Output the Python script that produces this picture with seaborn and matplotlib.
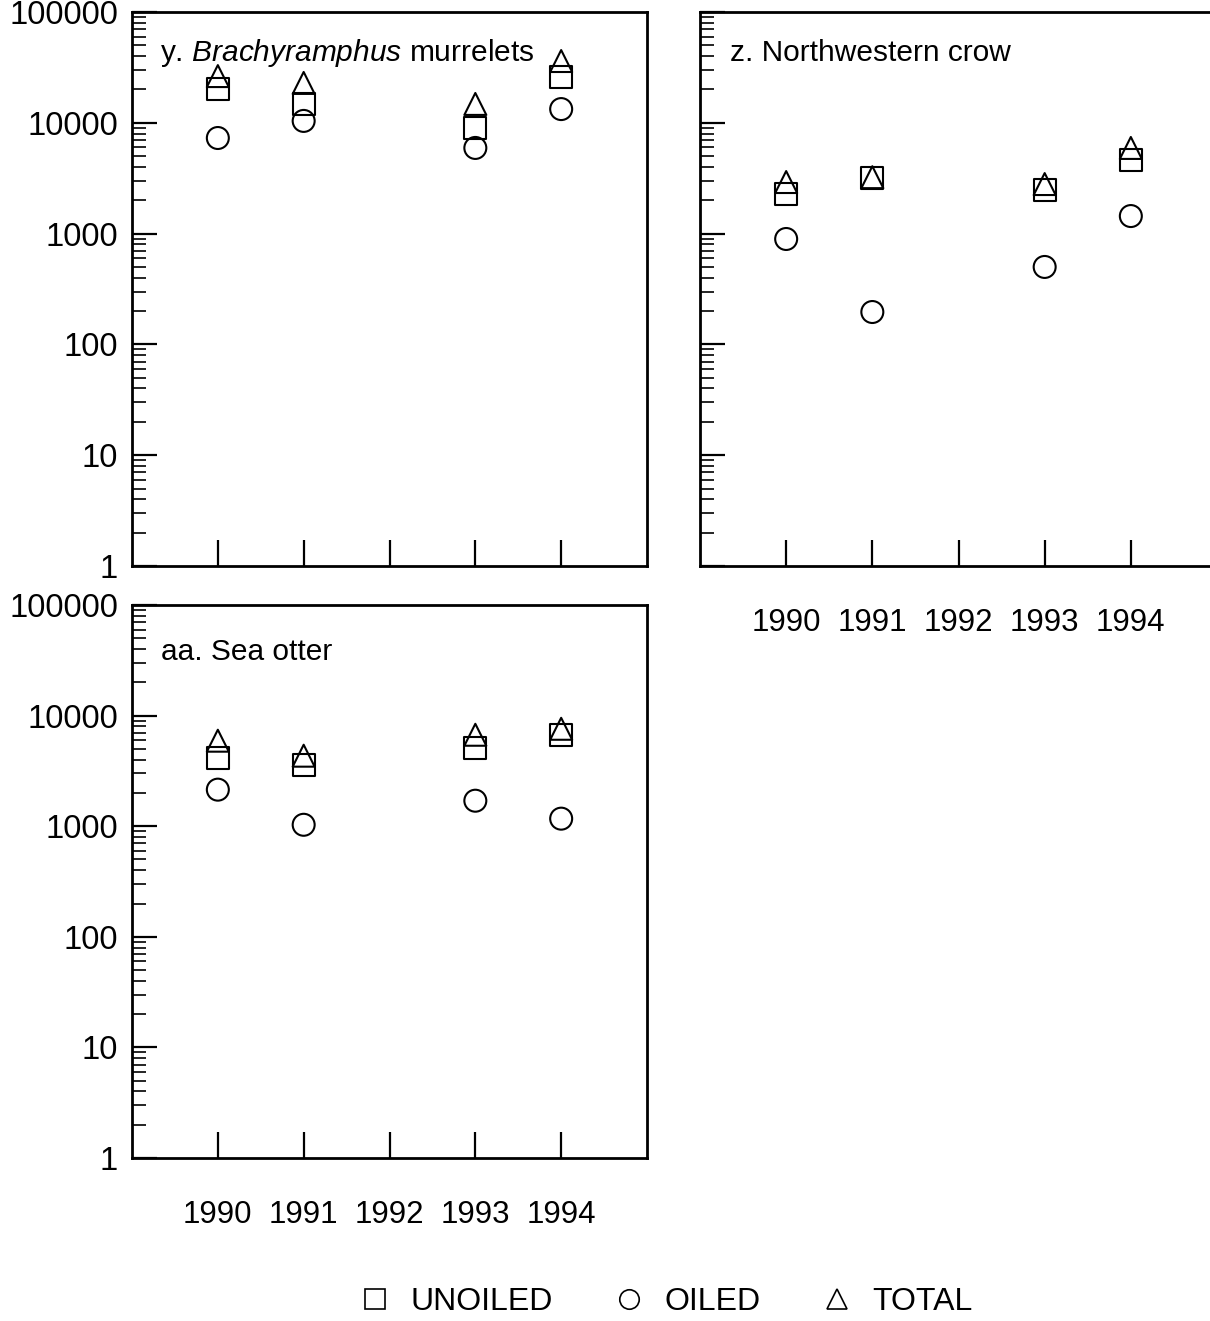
import matplotlib
matplotlib.use("Agg")
import matplotlib.pyplot as plt
import matplotlib.ticker as mticker
from matplotlib.lines import Line2D
import numpy as np
import pandas as pd
import seaborn as sns

# ---------------- data ----------------
years = [1990, 1991, 1993, 1994]
year_ticks = [1990, 1991, 1992, 1993, 1994]
y_ticks = [1, 10, 100, 1000, 10000, 100000]

murrelet_unoiled = [20200, 14800, 8980, 25900]
murrelet_oiled = [7290, 10400, 5930, 13300]
murrelet_total = [26400, 22900, 14800, 36100]

crow_unoiled = [2280, 3180, 2480, 4620]
crow_oiled = [894, 196, 500, 1440]
crow_total = [2920, 3230, 2800, 5930]

otter_unoiled = [4160, 3600, 5120, 6710]
otter_oiled = [2140, 1030, 1700, 1170]
otter_total = [5930, 4340, 6710, 7600]

series_names = ["UNOILED", "OILED", "TOTAL"]
series_markers = {"UNOILED": "s", "OILED": "o", "TOTAL": "^"}

# ---------------- style ----------------
sns.set_style("ticks")
plt.rcParams["font.family"] = ["Liberation Sans", "DejaVu Sans"]
plt.rcParams["mathtext.fontset"] = "custom"
plt.rcParams["mathtext.rm"] = "Liberation Sans"
plt.rcParams["mathtext.it"] = "Liberation Sans:italic"
for key in ["text.color", "axes.labelcolor", "xtick.color", "ytick.color",
            "axes.edgecolor"]:
    plt.rcParams[key] = "black"

W, H = 1210, 1321
DPI = 100
fig = plt.figure(figsize=(W / DPI, H / DPI), dpi=DPI)
fig.patch.set_facecolor("white")


def frac(left, top, right, bottom):
    return [left / W, 1 - bottom / H, (right - left) / W, (bottom - top) / H]


def make_df(unoiled, oiled, total):
    rows = []
    for name, vals in zip(series_names, [unoiled, oiled, total]):
        for yr, v in zip(years, vals):
            rows.append({"year": yr, "value": v, "series": name})
    return pd.DataFrame(rows)


def draw_panel(ax, unoiled, oiled, total, title, title_x, title_y,
               show_xlabels, show_ylabels):
    df = make_df(unoiled, oiled, total)
    sns.scatterplot(data=df, x="year", y="value", style="series",
                    markers=series_markers, style_order=series_names,
                    s=250, facecolor="none", edgecolor="black",
                    color="black", linewidth=1.5, legend=False, ax=ax,
                    zorder=3)
    ax.set_yscale("log")
    ax.set_ylim(1, 100000)
    ax.set_xlim(1989, 1995)
    ax.set_xlabel("")
    ax.set_ylabel("")
    ax.xaxis.set_major_locator(mticker.FixedLocator(year_ticks))
    ax.xaxis.set_minor_locator(mticker.NullLocator())
    ax.yaxis.set_major_locator(mticker.FixedLocator(y_ticks))
    ax.yaxis.set_minor_locator(mticker.LogLocator(base=10, subs=np.arange(2, 10)))
    ax.yaxis.set_minor_formatter(mticker.NullFormatter())
    ax.yaxis.set_major_formatter(mticker.FuncFormatter(lambda v, p: f"{int(round(v))}"))
    ax.xaxis.set_major_formatter(mticker.FuncFormatter(lambda v, p: f"{int(round(v))}"))
    ax.tick_params(axis="y", which="major", direction="in", length=18, width=1.6,
                   labelsize=23.5, pad=10, left=True, right=False,
                   labelleft=show_ylabels, colors="black")
    ax.tick_params(axis="y", which="minor", direction="in", length=10, width=1.2,
                   left=True, right=False, colors="black")
    ax.tick_params(axis="x", which="major", direction="in", length=19, width=1.6,
                   labelsize=22.5, pad=30, bottom=True, top=False,
                   labelbottom=show_xlabels, colors="black")
    for sp in ax.spines.values():
        sp.set_visible(True)
        sp.set_linewidth(2.0)
        sp.set_color("black")
    ax.grid(False)
    ax.set_facecolor("white")
    ax.text(title_x, title_y, title, transform=ax.transAxes, fontsize=21.5,
            ha="left", va="center", color="black")


ax1 = fig.add_axes(frac(132, 12, 647, 566))
ax2 = fig.add_axes(frac(700, 12, 1217, 566))
ax3 = fig.add_axes(frac(132, 605, 647, 1158))

draw_panel(ax1, murrelet_unoiled, murrelet_oiled, murrelet_total,
           r"y. $\mathit{Brachyramphus}$ murrelets", 0.054, 0.926,
           show_xlabels=False, show_ylabels=True)
draw_panel(ax2, crow_unoiled, crow_oiled, crow_total,
           "z. Northwestern crow", 0.058, 0.926,
           show_xlabels=True, show_ylabels=False)
draw_panel(ax3, otter_unoiled, otter_oiled, otter_total,
           "aa. Sea otter", 0.056, 0.915,
           show_xlabels=True, show_ylabels=True)

handles = [Line2D([], [], linestyle="none", marker=series_markers[n],
                  markersize=14, markerfacecolor="none",
                  markeredgecolor="black", markeredgewidth=1.2, label=n)
           for n in series_names]
leg = fig.legend(handles=handles, loc="center", ncol=3, frameon=False,
                 bbox_to_anchor=(666 / W, 1 - 1302 / H), fontsize=23,
                 handlelength=1.0, handletextpad=0.6, columnspacing=1.9)
for t in leg.get_texts():
    t.set_color("black")

fig.savefig("out.png", dpi=DPI, facecolor="white")
